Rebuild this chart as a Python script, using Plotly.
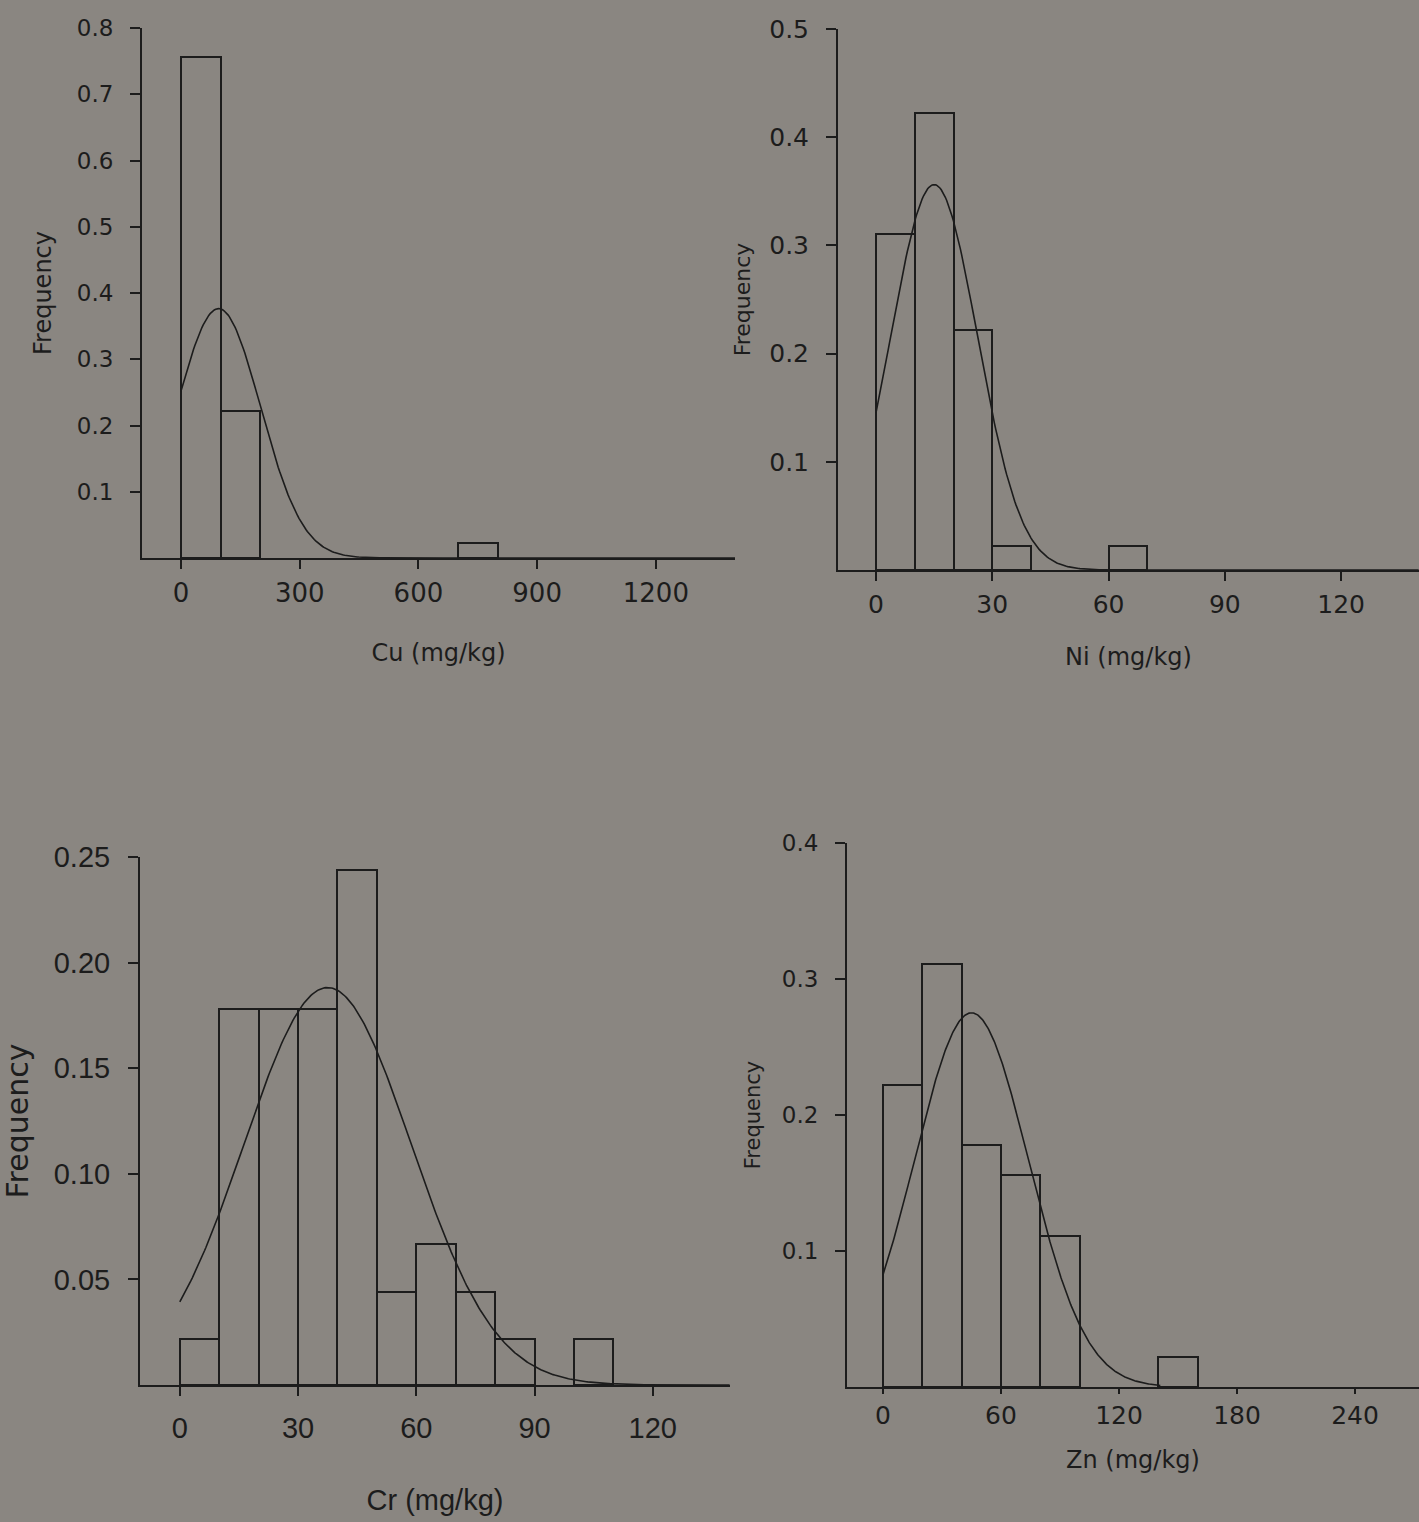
import numpy as np
import plotly.graph_objects as go

# ---------------- data ----------------
# Cu histogram (bin width 100)
cu_bin_left = [0, 100, 700]
cu_freq = [0.756, 0.222, 0.022]
cu_mean, cu_sd = 95.0, 106.0

# Ni histogram (bin width 10)
ni_bin_left = [0, 10, 20, 30, 60]
ni_freq = [0.311, 0.422, 0.222, 0.022, 0.022]
ni_mean, ni_sd = 15.0, 11.2

# Cr histogram (bin width 10)
cr_bin_left = [0, 10, 20, 30, 40, 50, 60, 70, 80, 100]
cr_freq = [0.022, 0.178, 0.178, 0.178, 0.244, 0.044, 0.067, 0.044, 0.022, 0.022]
cr_mean, cr_sd = 37.5, 21.2

# Zn histogram (bin width 20)
zn_bin_left = [0, 20, 40, 60, 80, 140]
zn_freq = [0.222, 0.311, 0.178, 0.156, 0.111, 0.022]
zn_mean, zn_sd = 45.0, 29.0

cu_xticks = [0, 300, 600, 900, 1200]
ni_xticks = [0, 30, 60, 90, 120]
cr_xticks = [0, 30, 60, 90, 120]
zn_xticks = [0, 60, 120, 180, 240]
cu_yticks = [0.1, 0.2, 0.3, 0.4, 0.5, 0.6, 0.7, 0.8]
ni_yticks = [0.1, 0.2, 0.3, 0.4, 0.5]
cr_yticks = [0.05, 0.10, 0.15, 0.20, 0.25]
zn_yticks = [0.1, 0.2, 0.3, 0.4]

# ---------------- styling ----------------
BG = "#8a8681"
INK = "#1c1c1c"
W, H = 1419, 1522


def normal_curve(mean, sd, binw, x0, x1):
    xs = np.linspace(x0, x1, 400)
    ys = binw * np.exp(-0.5 * ((xs - mean) / sd) ** 2) / (sd * np.sqrt(2 * np.pi))
    return xs, ys


fig = go.Figure()

panels = [
    dict(left=cu_bin_left, freq=cu_freq, binw=100, mean=cu_mean, sd=cu_sd,
         cx=(0, 1400), xa="x", ya="y"),
    dict(left=ni_bin_left, freq=ni_freq, binw=10, mean=ni_mean, sd=ni_sd,
         cx=(0, 140), xa="x2", ya="y2"),
    dict(left=cr_bin_left, freq=cr_freq, binw=10, mean=cr_mean, sd=cr_sd,
         cx=(0, 139.5), xa="x3", ya="y3"),
    dict(left=zn_bin_left, freq=zn_freq, binw=20, mean=zn_mean, sd=zn_sd,
         cx=(0, 141), xa="x4", ya="y4"),
]

for p in panels:
    centers = [l + p["binw"] / 2 for l in p["left"]]
    fig.add_trace(go.Bar(
        x=centers, y=p["freq"], width=p["binw"],
        marker=dict(color="rgba(0,0,0,0)", line=dict(color=INK, width=2)),
        xaxis=p["xa"], yaxis=p["ya"], showlegend=False, hoverinfo="skip",
    ))
    xs, ys = normal_curve(p["mean"], p["sd"], p["binw"], *p["cx"])
    fig.add_trace(go.Scatter(
        x=xs, y=ys, mode="lines", line=dict(color=INK, width=1.6),
        xaxis=p["xa"], yaxis=p["ya"], showlegend=False, hoverinfo="skip",
    ))


def px_x(a, b):
    return [a / W, min(b / W, 1.0)]


def px_y(top, bottom):
    return [1 - bottom / H, 1 - top / H]


DV = "DejaVu Sans"
LIB = "Liberation Sans, Arial"


def xaxis(domain, rng, ticks, title, tfont, tsize, ttsize, anchor, ticklen, lstand, tstand):
    return dict(
        domain=domain, range=rng, anchor=anchor,
        tickmode="array", tickvals=ticks, ticktext=[str(t) for t in ticks],
        ticks="outside", ticklen=ticklen, tickwidth=2, tickcolor=INK,
        showline=True, linecolor=INK, linewidth=2,
        showgrid=False, zeroline=False, automargin=False,
        tickfont=dict(family=tfont, size=tsize, color=INK),
        ticklabelstandoff=lstand,
        title=dict(text=title, font=dict(family=tfont, size=ttsize, color=INK), standoff=tstand),
        fixedrange=True,
    )


def yaxis(domain, rng, ticks, tfont, tsize, ftfont, ftsize, anchor, lstand, tstand, fmt):
    return dict(
        domain=domain, range=rng, anchor=anchor,
        tickmode="array", tickvals=ticks, ticktext=[fmt(t) for t in ticks],
        ticks="outside", ticklen=10, tickwidth=2, tickcolor=INK,
        showline=True, linecolor=INK, linewidth=2,
        showgrid=False, zeroline=False, automargin=False,
        tickfont=dict(family=tfont, size=tsize, color=INK),
        ticklabelstandoff=lstand,
        title=dict(text="Frequency", font=dict(family=ftfont, size=ftsize, color=INK), standoff=tstand),
        fixedrange=True,
    )


f1 = lambda t: f"{t:.1f}"
f2 = lambda t: f"{t:.2f}"

fig.update_layout(
    width=W, height=H,
    margin=dict(l=0, r=0, t=0, b=0),
    paper_bgcolor=BG, plot_bgcolor=BG,
    bargap=0,
    xaxis=xaxis(px_x(142, 735), [-98.5, 1400], cu_xticks, "Cu (mg/kg)", DV, 26, 24, "y", 9, 2, 37),
    yaxis=yaxis(px_y(28, 558), [0, 0.8], cu_yticks, DV, 23, DV, 24, "x", 12, 18, f1),
    xaxis2=xaxis(px_x(838, 1419), [-9.8, 140.1], ni_xticks, "Ni (mg/kg)", DV, 25, 24, "y2", 9, 2, 30),
    yaxis2=yaxis(px_y(29, 570), [0, 0.5], ni_yticks, DV, 25, DV, 22, "x2", 12, 13, f1),
    xaxis3=xaxis(px_x(140, 730), [-10.1, 139.6], cr_xticks, "Cr (mg/kg)", LIB, 29, 29, "y3", 9, 7, 47),
    yaxis3=yaxis(px_y(857, 1385), [0, 0.25], cr_yticks, LIB, 29, DV, 30, "x3", 12, 26, f2),
    xaxis4=xaxis(px_x(847, 1419), [-18.3, 272.5], zn_xticks, "Zn (mg/kg)", DV, 25, 24, "y4", 5, 0, 22),
    yaxis4=yaxis(px_y(843, 1387), [0, 0.4], zn_yticks, DV, 23, DV, 21, "x4", 12, 15, f1),
)

fig.write_html("out.html")
